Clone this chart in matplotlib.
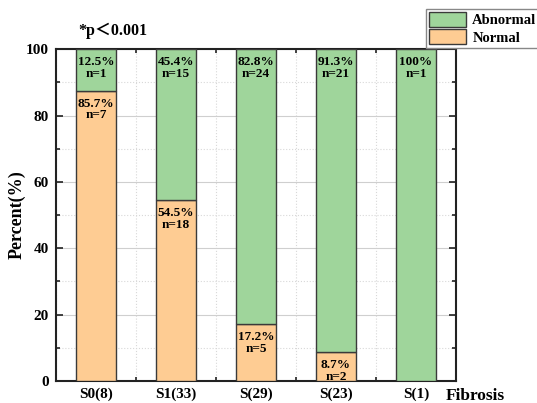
import numpy as np
import matplotlib
matplotlib.use('Agg')
import matplotlib.pyplot as plt
from matplotlib.ticker import MultipleLocator

plt.rcParams['font.family'] = ['Liberation Serif', 'Noto Sans CJK SC']
plt.rcParams['font.weight'] = 'bold'

# data
groups = ['S0(8)', 'S1(33)', 'S(29)', 'S(23)', 'S(1)']
normal_pct = [87.5, 54.5, 17.2, 8.7, 0.0]
abnormal_pct = [12.5, 45.5, 82.8, 91.3, 100.0]
normal_labels = ['85.7%\nn=7', '54.5%\nn=18', '17.2%\nn=5', '8.7%\nn=2', '']
abnormal_labels = ['12.5%\nn=1', '45.4%\nn=15', '82.8%\nn=24', '91.3%\nn=21', '100%\nn=1']

green = '#9fd59b'
orange = '#fecc93'
edge = '#3a3a3a'

fig = plt.figure(figsize=(5.37, 4.03), dpi=100)
ax = fig.add_axes([0.104, 0.0546, 0.745, 0.8234])

x = np.arange(len(groups))
width = 0.5
b1 = ax.bar(x, normal_pct, width, color=orange, edgecolor=edge, linewidth=1, label='Normal', zorder=3)
b2 = ax.bar(x, abnormal_pct, width, bottom=normal_pct, color=green, edgecolor=edge, linewidth=1,
            label='Abnormal', zorder=3)

# bar labels
for i in range(len(groups)):
    ax.text(x[i], 100 - 2.2, abnormal_labels[i], ha='center', va='top', fontsize=9.5,
            fontweight='bold', linespacing=0.95, zorder=4)
    if normal_labels[i]:
        ax.text(x[i], normal_pct[i] - 2.2, normal_labels[i], ha='center', va='top', fontsize=9.5,
                fontweight='bold', linespacing=0.95, zorder=4)

ax.set_xlim(-0.5, len(groups) - 0.5)
ax.set_ylim(0, 100)
ax.set_xticks(x)
ax.set_xticklabels(groups, fontsize=11, fontweight='bold')
ax.xaxis.set_minor_locator(MultipleLocator(0.5))
ax.yaxis.set_major_locator(MultipleLocator(20))
ax.yaxis.set_minor_locator(MultipleLocator(10))
for lab in ax.get_yticklabels():
    lab.set_fontsize(11)
    lab.set_fontweight('bold')

ax.tick_params(which='both', direction='in', top=True, right=True, width=1.2, color='#222222')
ax.tick_params(which='major', length=5, pad=5)
ax.tick_params(which='minor', length=3)

# grid
ax.grid(which='major', axis='y', color='#cfcfcf', linestyle='-', linewidth=0.8, zorder=0)
ax.grid(which='minor', axis='y', color='#d8d8d8', linestyle=':', linewidth=0.8, zorder=0)
ax.grid(which='minor', axis='x', color='#d8d8d8', linestyle=':', linewidth=0.8, zorder=0)
ax.set_axisbelow(True)

for s in ax.spines.values():
    s.set_linewidth(1.5)
    s.set_color('#222222')

ax.set_ylabel('Percent(%)', fontsize=13, fontweight='bold', labelpad=0)
ax.text(0.975, -0.045, 'Fibrosis', transform=ax.transAxes, ha='left', va='center',
        fontsize=12.5, fontweight='bold')
ax.text(0.055, 1.03, '*p＜0.001', transform=ax.transAxes, ha='left', va='bottom',
        fontsize=11.5, fontweight='bold')

fig.legend([b2, b1], ['Abnormal', 'Normal'], loc='upper right', bbox_to_anchor=(1.01, 0.985),
           fancybox=False, edgecolor='#888888', framealpha=1, fontsize=10.5,
           handlelength=2.6, handleheight=1.2, borderpad=0.2, labelspacing=0.15,
           handletextpad=0.4, borderaxespad=0.2)

fig.savefig('out.png', dpi=100)
